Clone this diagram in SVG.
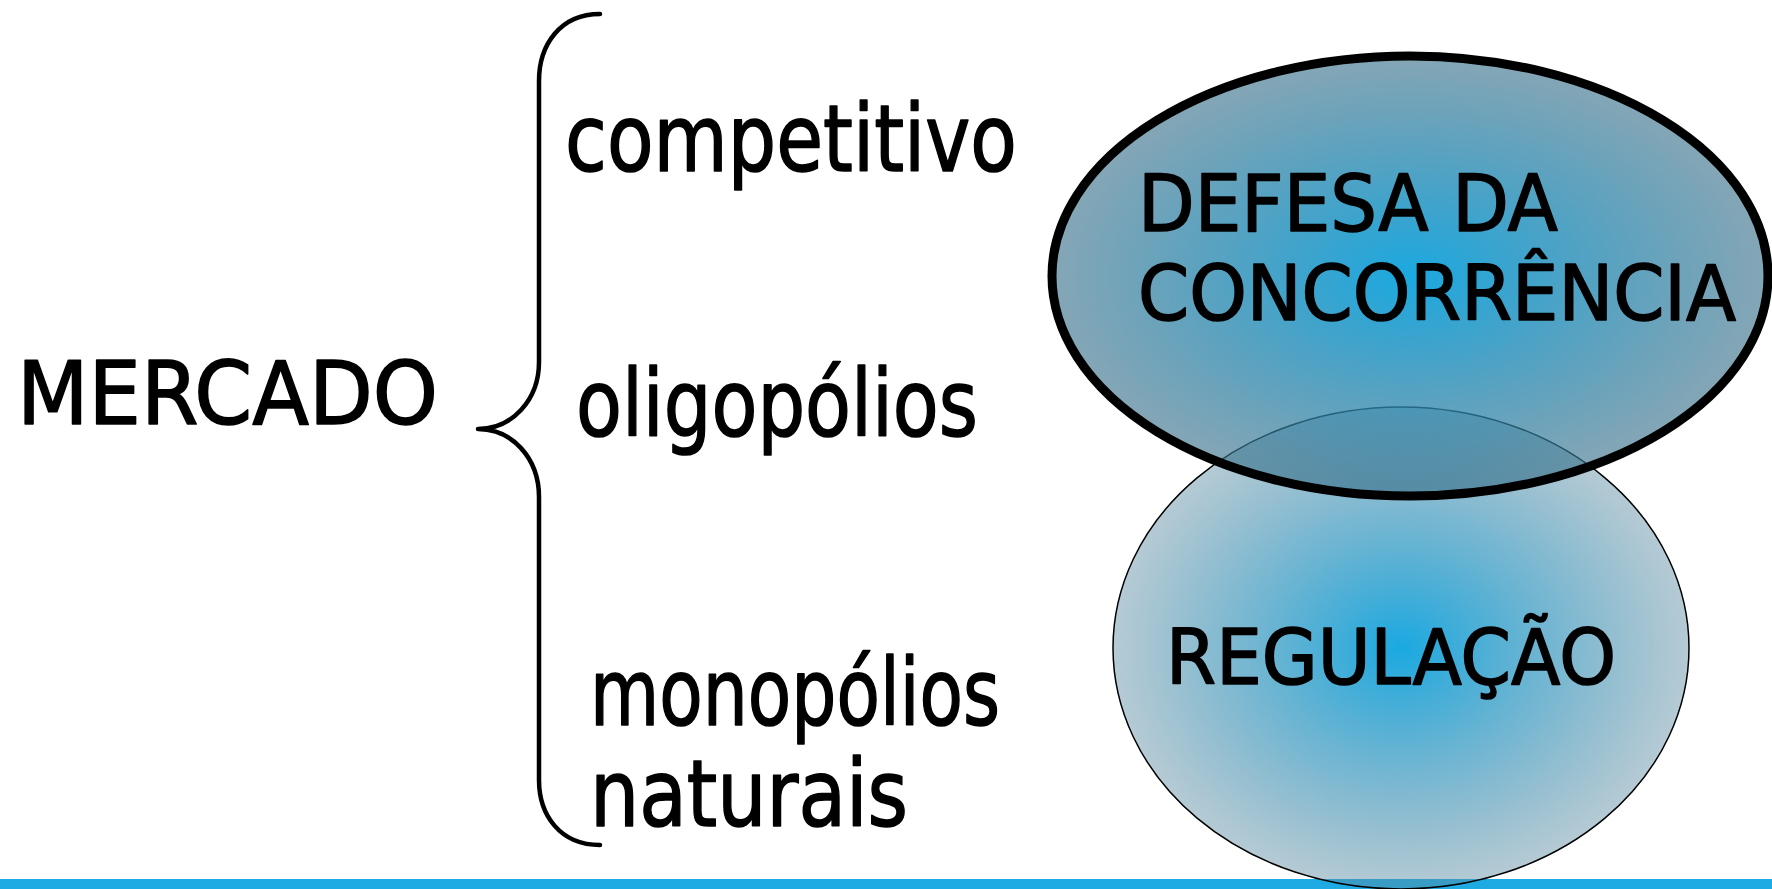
<svg xmlns="http://www.w3.org/2000/svg" width="1772" height="889" viewBox="0 0 1772 889">
<style>
.t{font-family:"DejaVu Sans","Liberation Sans",sans-serif;fill:#000;stroke:#000;stroke-width:1.6;stroke-linejoin:round}
.brace{fill:none;stroke:#000;stroke-width:4.5;stroke-linecap:round;stroke-linejoin:round}
</style>
<defs>
<radialGradient id="gA" cx="0.5" cy="0.5" r="0.5">
<stop offset="0" stop-color="#1aa9e1" stop-opacity="1"/>
<stop offset="1" stop-color="#3a7089" stop-opacity="0.62"/>
</radialGradient>
<radialGradient id="gB" cx="0.5" cy="0.5" r="0.5">
<stop offset="0" stop-color="#1aa9e1" stop-opacity="1"/>
<stop offset="1" stop-color="#5a8aa0" stop-opacity="0.45"/>
</radialGradient>
</defs>
<rect width="1772" height="889" fill="#fff"/>
<rect id="bar" x="0" y="879" width="1772" height="10" fill="#1eabe3"/>
<g id="mercado"><text class="t" x="17" y="424" font-size="88" textLength="421" lengthAdjust="spacingAndGlyphs">MERCADO</text></g>
<g id="connectors"><path class="brace" d="M600,14 C560,14 539,45 539,81 L539,362 C539,400 512,429 478,429 C512,429 539,458 539,497 L539,780 C539,815 560,845 600,845"/></g>
<g id="competitivo"><text class="t" x="565" y="171" font-size="92" textLength="452" lengthAdjust="spacingAndGlyphs">competitivo</text></g>
<g id="oligopolios"><text class="t" x="576" y="436" font-size="92" textLength="402" lengthAdjust="spacingAndGlyphs">oligopólios</text></g>
<g id="monopolios"><text class="t" x="590" y="725" font-size="92" textLength="410" lengthAdjust="spacingAndGlyphs">monopólios</text><text class="t" x="590" y="826" font-size="92" textLength="318" lengthAdjust="spacingAndGlyphs">naturais</text></g>
<g id="regulacao"><ellipse cx="1401" cy="648" rx="288" ry="241" fill="url(#gB)" stroke="#000" stroke-width="1.5"/><text class="t" x="1166" y="684" font-size="76" textLength="450" lengthAdjust="spacingAndGlyphs">REGULAÇÃO</text></g>
<g id="defesa"><ellipse cx="1410" cy="276" rx="358" ry="220" fill="url(#gA)" stroke="#000" stroke-width="9"/><text class="t" x="1138" y="231" font-size="78" textLength="420" lengthAdjust="spacingAndGlyphs">DEFESA DA</text><text class="t" x="1138" y="320" font-size="76" textLength="598" lengthAdjust="spacingAndGlyphs">CONCORRÊNCIA</text></g>
</svg>
